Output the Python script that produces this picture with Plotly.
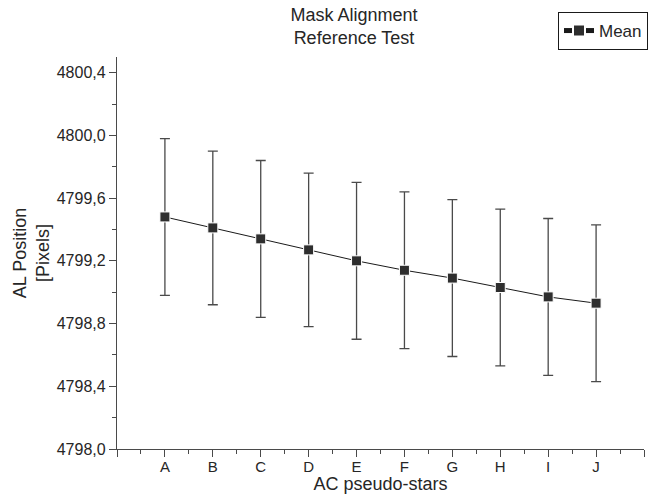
import plotly.graph_objects as go

categories = ["A", "B", "C", "D", "E", "F", "G", "H", "I", "J"]
positions = [1, 2, 3, 4, 5, 6, 7, 8, 9, 10]
mean_values = [4799.48, 4799.41, 4799.34, 4799.27, 4799.20, 4799.14, 4799.09, 4799.03, 4798.97, 4798.93]
error_values = [0.50, 0.49, 0.50, 0.49, 0.50, 0.50, 0.50, 0.50, 0.50, 0.50]
y_tick_values = [4798.0, 4798.4, 4798.8, 4799.2, 4799.6, 4800.0, 4800.4]
y_tick_labels = ["4798,0", "4798,4", "4798,8", "4799,2", "4799,6", "4800,0", "4800,4"]

font_family = "Liberation Sans, Arial, sans-serif"
text_color = "#262626"
axis_color = "#4a4a4a"

fig = go.Figure()
fig.add_trace(go.Scatter(
    x=positions,
    y=mean_values,
    mode="lines+markers",
    name="Mean",
    line=dict(color="#1a1a1a", width=1),
    marker=dict(symbol="square", size=10, color="#2e2e2e", line=dict(color="white", width=1)),
    error_y=dict(type="data", array=error_values, visible=True, color=axis_color, thickness=1.3, width=5),
))

fig.update_layout(
    width=650,
    height=494,
    margin=dict(l=117, r=6, t=57, b=45, autoexpand=False),
    paper_bgcolor="white",
    plot_bgcolor="white",
    font=dict(family=font_family, color=text_color, size=16),
    title=dict(
        text="Mask Alignment<br>Reference Test",
        x=354 / 650,
        xanchor="center",
        xref="container",
        y=1 - 21 / 494,
        yref="container",
        yanchor="top",
        font=dict(size=18, family=font_family, color=text_color),
    ),
    showlegend=True,
    legend=dict(
        x=648 / 650,
        xanchor="right",
        xref="container",
        y=1 - 12 / 494,
        yanchor="top",
        yref="container",
        bordercolor="#1a1a1a",
        borderwidth=1,
        bgcolor="white",
        font=dict(size=17, family=font_family, color=text_color),
        itemwidth=30,
        tracegroupgap=0,
        itemsizing="constant",
    ),
)

fig.update_xaxes(
    range=[0, 11],
    tickvals=list(range(0, 12)),
    ticktext=[""] + categories + [""],
    ticks="outside",
    ticklen=7,
    tickwidth=1.3,
    tickcolor=axis_color,
    showline=True,
    linecolor=axis_color,
    linewidth=1.3,
    showgrid=False,
    zeroline=False,
    minor=dict(dtick=0.5, tick0=0, ticks="outside", ticklen=4, tickwidth=1.3, tickcolor=axis_color),
    title=dict(text="AC pseudo-stars", font=dict(size=18, family=font_family, color=text_color), standoff=0),
    tickfont=dict(size=15, family=font_family, color=text_color),
    ticklabelstandoff=-3,
)

fig.update_yaxes(
    range=[4798.0, 4800.5],
    tickvals=y_tick_values,
    ticktext=y_tick_labels,
    ticks="outside",
    ticklen=7,
    tickwidth=1.3,
    tickcolor=axis_color,
    showline=True,
    linecolor=axis_color,
    linewidth=1.3,
    showgrid=False,
    zeroline=False,
    minor=dict(dtick=0.2, tick0=4798.0, ticks="outside", ticklen=4, tickwidth=1.3, tickcolor=axis_color),
    title=dict(text="AL Position<br>[Pixels]", font=dict(size=18, family=font_family, color=text_color), standoff=2),
    tickfont=dict(size=16, family=font_family, color=text_color),
)

fig.write_html("out.html")
